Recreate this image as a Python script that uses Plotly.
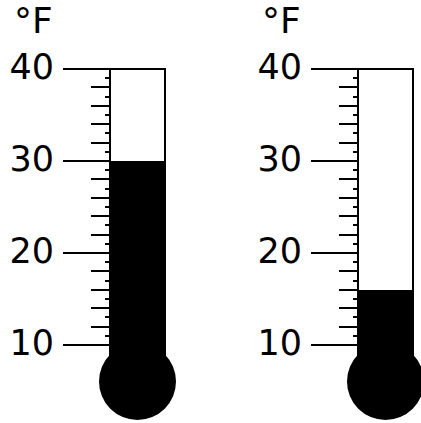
import plotly.graph_objects as go

# ---- data ----
unit_label = "°F"
temperatures = [30, 16]
major_ticks = [10, 20, 30, 40]
even_ticks = [12, 14, 16, 18, 22, 24, 26, 28, 32, 34, 36, 38]
odd_ticks = [11, 13, 15, 17, 19, 21, 23, 25, 27, 29, 31, 33, 35, 37, 39]
tick_labels = ["10", "20", "30", "40"]

# ---- layout constants (pixels / styles) ----
W, H = 421, 423
TUBE_LEFT = [110, 358]
TUBE_W = 55
PX_PER_DEG = 9.2
Y_TOP = 40 + 69 / PX_PER_DEG
Y_BOT = Y_TOP - H / PX_PER_DEG
BULB_Y = Y_TOP - 381.5 / PX_PER_DEG
BULB_R_PX = 38.5
BULB_R_DEG = BULB_R_PX / PX_PER_DEG
FONT = dict(family="DejaVu Sans", size=35, color="black")
UNIT_FONT = dict(family="DejaVu Sans", size=36, color="black")

fig = go.Figure()

centers = [l + TUBE_W / 2 for l in TUBE_LEFT]
fig.add_trace(go.Bar(
    x=centers,
    y=[t - BULB_Y for t in temperatures],
    base=BULB_Y,
    width=TUBE_W,
    marker=dict(color="black", line=dict(width=0)),
    showlegend=False,
    hoverinfo="skip",
))
for ax in ["y2", "y3", "y4"]:
    fig.add_trace(go.Scatter(x=[None], y=[None], yaxis=ax, showlegend=False, hoverinfo="skip"))

shapes = []
for c, l in zip(centers, TUBE_LEFT):
    shapes.append(dict(type="rect", xref="x", yref="y", x0=l, x1=l + TUBE_W,
                       y0=BULB_Y, y1=40, line=dict(color="black", width=2),
                       fillcolor="rgba(0,0,0,0)", layer="above"))
    shapes.append(dict(type="circle", xref="x", yref="y",
                       x0=c - BULB_R_PX, x1=c + BULB_R_PX,
                       y0=BULB_Y - BULB_R_DEG, y1=BULB_Y + BULB_R_DEG,
                       line=dict(color="black", width=0), fillcolor="black", layer="above"))

def major_axis(pos, overlay=None):
    d = dict(range=[Y_BOT, Y_TOP], anchor="free", position=pos, side="left",
             tickmode="array", tickvals=major_ticks, ticktext=tick_labels,
             ticks="outside", ticklen=47, tickwidth=2, tickcolor="black",
             showgrid=False, zeroline=False, showline=False,
             tickfont=FONT, ticklabelstandoff=2, ticklabelshift=-2,
             minor=dict(tickmode="array", tickvals=even_ticks, ticks="outside",
                        ticklen=19, tickwidth=2, tickcolor="black", showgrid=False),
             fixedrange=True)
    if overlay:
        d["overlaying"] = overlay
    return d

def short_axis(pos):
    return dict(range=[Y_BOT, Y_TOP], anchor="free", position=pos, side="left",
                overlaying="y", tickmode="array", tickvals=odd_ticks,
                ticks="outside", ticklen=5, tickwidth=2, tickcolor="black",
                showticklabels=False, showgrid=False, zeroline=False, showline=False,
                fixedrange=True)

annotations = []
for l in TUBE_LEFT:
    annotations.append(dict(text=unit_label, xref="paper", yref="paper",
                            x=(l - 55) / W, y=1 - 21 / H, xanchor="right", yanchor="middle",
                            showarrow=False, font=UNIT_FONT))

fig.update_layout(
    width=W, height=H,
    margin=dict(l=0, r=0, t=0, b=0),
    paper_bgcolor="white", plot_bgcolor="white",
    xaxis=dict(range=[0, W], visible=False, fixedrange=True),
    yaxis=major_axis(TUBE_LEFT[0] / W),
    yaxis2=major_axis(TUBE_LEFT[1] / W, overlay="y"),
    yaxis3=short_axis(TUBE_LEFT[0] / W),
    yaxis4=short_axis(TUBE_LEFT[1] / W),
    shapes=shapes,
    annotations=annotations,
    showlegend=False,
    bargap=0,
)

fig.write_html("out.html", config={"displayModeBar": False},
               post_script="document.body.style.margin='0';document.body.style.overflow='hidden';")
